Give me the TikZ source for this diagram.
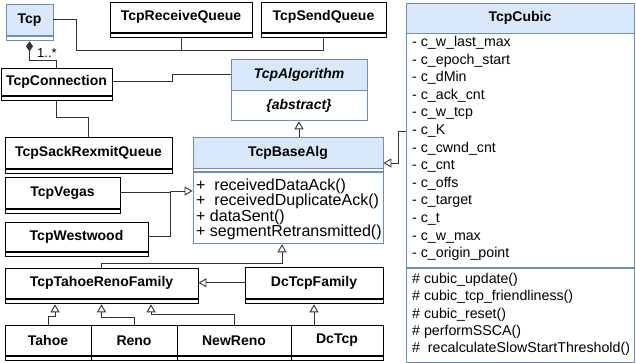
\documentclass[tikz,border=0pt]{standalone}
\usepackage{fontspec}
\setmainfont{Liberation Sans}
\usepackage{tikz}
\usetikzlibrary{arrows.meta, calc}

\definecolor{umlfill}{HTML}{DAE8FC}
\definecolor{umlstroke}{HTML}{6C8EBF}
\definecolor{wire}{HTML}{333333}

\tikzset{
  plainbox/.style={draw=black, fill=white, line width=0.9pt, inner sep=0pt,
    font=\bfseries\fontsize{14}{16}\selectfont},
  bluebox/.style={plainbox, draw=umlstroke, fill=umlfill},
  cubicmember/.style={inner sep=0pt, font=\fontsize{14.2}{17}\selectfont},
  basemember/.style={inner sep=0pt, font=\fontsize{16}{18}\selectfont},
  wireline/.style={draw=wire, line width=0.9pt},
  inherit/.style={wireline, -{Triangle[open, length=8pt, width=9pt]}},
  compose/.style={wireline, {Diamond[length=10pt, width=7pt]}-},
}

\def\stripH{4.5}
% name, x1, y1, x2, y2, title (pixel coordinates, y downwards)
\newcommand{\ClassBox}[7][plainbox]{%
  \pgfmathsetmacro{\cw}{#5-#3}%
  \pgfmathsetmacro{\ch}{#6-#4-\stripH}%
  \node[#1, minimum width=\cw, minimum height=\ch] (#2) at ({(#3+#5)/2}, {#4+\ch/2}) {#7};
  \node[#1, fill=white, minimum width=\cw, minimum height=\stripH, anchor=north] (#2S) at (#2.south) {};
}

\begin{document}
\begin{tikzpicture}[x=1pt, y=-1pt]

  \fill[white] (0,0) rectangle (636,362);
  \useasboundingbox (0,0) rectangle (636,362);

  % top row
  \ClassBox[bluebox]{tcp}{6}{4}{53}{40}{Tcp}
  \ClassBox{recvq}{110}{2}{252}{37}{TcpReceiveQueue}
  \ClassBox{sendq}{261}{2}{386}{37}{TcpSendQueue}

  % left column
  \ClassBox{conn}{1}{68}{112}{100}{TcpConnection}
  \ClassBox{sack}{5}{137}{172}{173}{TcpSackRexmitQueue}
  \ClassBox{vegas}{5}{177}{120}{213}{TcpVegas}
  \ClassBox{westwood}{5}{222}{148}{256}{TcpWestwood}

  % families and leaves
  \ClassBox{tahoereno}{5}{268}{198}{303}{TcpTahoeRenoFamily}
  \ClassBox{dcfam}{245}{267}{383}{303}{DcTcpFamily}
  \ClassBox{tahoe}{5}{325}{91}{360}{Tahoe}
  \ClassBox{reno}{91}{325}{177}{360}{Reno}
  \ClassBox{newreno}{177}{325}{291}{360}{NewReno}
  \ClassBox{dctcp}{291}{325}{383}{360}{DcTcp}

  % abstract algorithm
  \node[bluebox, font=\bfseries\itshape\fontsize{14}{16}\selectfont,
    minimum width=136, minimum height=31] (algo) at (299,74.5) {TcpAlgorithm};
  \node[bluebox, fill=white, font=\bfseries\itshape\fontsize{14}{16}\selectfont,
    minimum width=136, minimum height=30, anchor=north] (algoabs) at (algo.south) {\{abstract\}};

  % base algorithm
  \node[bluebox, minimum width=190, minimum height=31] (base) at (288,152.5) {TcpBaseAlg};
  \node[bluebox, fill=white, minimum width=190, minimum height=3, anchor=north] (baseS) at (base.south) {};
  \node[bluebox, fill=white, minimum width=190, minimum height=71, anchor=north] (baseM) at (baseS.south) {};
  \foreach \txt [count=\i] in {+\ \ receivedDataAck(), +\ \ receivedDuplicateAck(), + dataSent(), + segmentRetransmitted()}
    \node[basemember, anchor=base west] (bm\i) at (196, {190+(\i-1)*15.5}) {\txt};

  % cubic
  \node[bluebox, minimum width=228, minimum height=30] (cubic) at (520,18) {TcpCubic};
  \node[bluebox, fill=white, minimum width=228, minimum height=234, anchor=north] (cubicA) at (cubic.south) {};
  \node[bluebox, fill=white, minimum width=228, minimum height=94, anchor=north] (cubicM) at (cubicA.south) {};
  \foreach \txt [count=\i] in {- c\_w\_last\_max, - c\_epoch\_start, - c\_dMin, - c\_ack\_cnt, - c\_w\_tcp, - c\_K, - c\_cwnd\_cnt, - c\_cnt, - c\_offs, - c\_target, - c\_t, - c\_w\_max, - c\_origin\_point}
    \node[cubicmember, anchor=base west] (ca\i) at (412, {46.5+(\i-1)*17.6}) {\txt};
  \foreach \txt [count=\i] in {\# cubic\_update(), \# cubic\_tcp\_friendliness(), \# cubic\_reset(), \# performSSCA(), \#\ \ recalculateSlowStartThreshold()}
    \node[cubicmember, anchor=base west] (cm\i) at (412, {283.5+(\i-1)*17.3}) {\txt};

  % connectors
  \coordinate (qbus) at (76,50);
  \draw[wireline] (tcp.east) -| (qbus) -| (sendqS.south);
  \draw[wireline] (recvqS.south) -- (recvqS.south |- qbus);

  \draw[compose] (tcpS.south) |- ($(conn.north)+(0,-7)$) -- (conn.north);
  \node[inner sep=0pt, font=\fontsize{13}{15}\selectfont] (mult) at (47,53) {1..*};

  \draw[wireline] (conn.east) -- ++(60,0) |- (algo.west);
  \draw[wireline] (connS.south) |- ($(sack.north)+(0,-19)$) -- (sack.north);

  \draw[inherit] (algoabs.south |- base.north) -- (algoabs.south);

  \coordinate (vjoin) at (170,191);
  \draw[wireline] (vegas.east) -| (vjoin);
  \draw[wireline] (westwood.east) -| (vjoin);
  \draw[inherit] (vjoin) -- (vjoin -| baseM.west);

  \draw[inherit] (cubicA.west |- 0,131) -- ++(-7,0) |- (base.east |- 0,163);

  \coordinate (fjoin) at (282,263);
  \draw[inherit] (tahoereno.north) |- (fjoin) -- (fjoin |- baseM.south);
  \draw[inherit] (dcfam.west) -- (dcfam.west -| tahoereno.east);

  \draw[inherit] (tahoe.north) -- ++(0,-8) -| ($(tahoerenoS.south)+(-46.5,0)$);
  \draw[inherit] (reno.north) -- ++(0,-7) -| (tahoerenoS.south);
  \draw[inherit] (newreno.north) -- ++(0,-10) -| ($(tahoerenoS.south)+(49.5,0)$);
  \draw[inherit] (dctcp.north -| dcfamS.south) -- (dcfamS.south);

\end{tikzpicture}
\end{document}
